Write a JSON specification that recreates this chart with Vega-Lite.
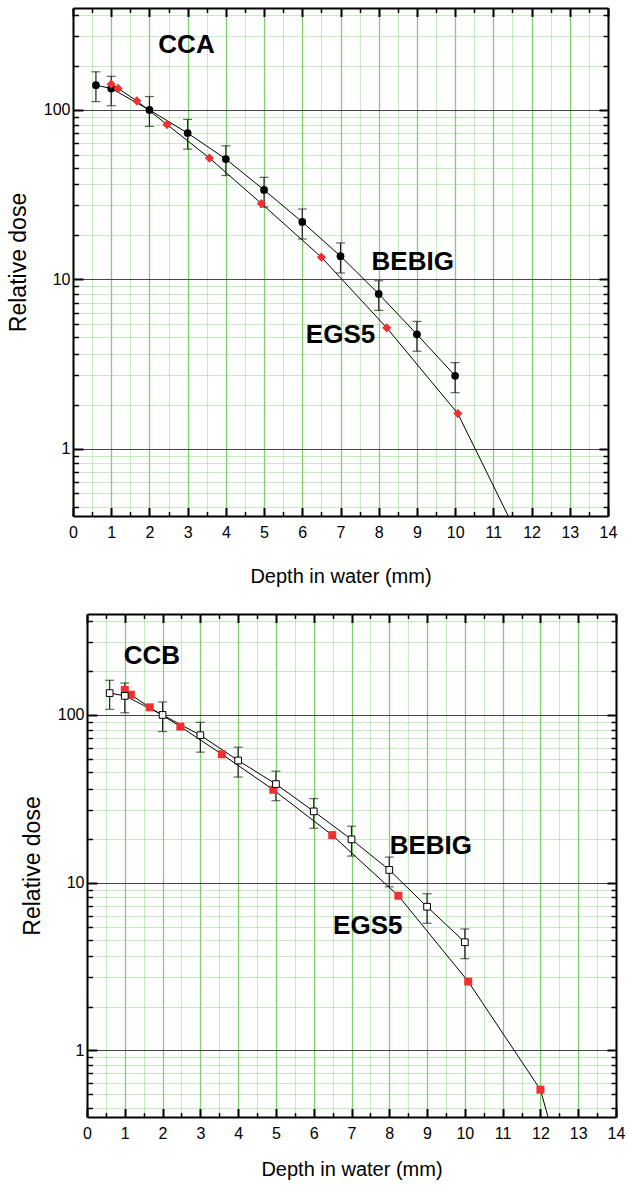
{
  "$schema": "https://vega.github.io/schema/vega-lite/v6.json",
  "padding": {"left": 6, "top": 7, "right": 0, "bottom": 0},
  "config": {"font": "Liberation Sans", "view": {"stroke": null}},
  "datasets": {
    "cca": [
      {"s": "BEBIG", "x": 0.6, "y": 140, "lo": 112, "hi": 168},
      {"s": "BEBIG", "x": 1, "y": 134, "lo": 106, "hi": 158},
      {"s": "BEBIG", "x": 2, "y": 100, "lo": 80, "hi": 120},
      {"s": "BEBIG", "x": 3, "y": 73, "lo": 58.7, "hi": 88},
      {"s": "BEBIG", "x": 4, "y": 51.3, "lo": 41, "hi": 61.4},
      {"s": "BEBIG", "x": 5, "y": 33.7, "lo": 26.7, "hi": 40},
      {"s": "BEBIG", "x": 6, "y": 21.8, "lo": 17.3, "hi": 26},
      {"s": "BEBIG", "x": 7, "y": 13.7, "lo": 10.9, "hi": 16.4},
      {"s": "BEBIG", "x": 8, "y": 8.2, "lo": 6.55, "hi": 9.8},
      {"s": "BEBIG", "x": 9, "y": 4.73, "lo": 3.76, "hi": 5.64},
      {"s": "BEBIG", "x": 10, "y": 2.69, "lo": 2.14, "hi": 3.22},
      {"s": "EGS5", "x": 1.0, "y": 142},
      {"s": "EGS5", "x": 1.18, "y": 134},
      {"s": "EGS5", "x": 1.67, "y": 113},
      {"s": "EGS5", "x": 2.46, "y": 82},
      {"s": "EGS5", "x": 3.57, "y": 52},
      {"s": "EGS5", "x": 4.93, "y": 28},
      {"s": "EGS5", "x": 6.5, "y": 13.5},
      {"s": "EGS5", "x": 8.21, "y": 5.17},
      {"s": "EGS5", "x": 10.07, "y": 1.61},
      {"s": "EGS5", "x": 12.0, "y": 0.21}
    ],
    "ccb": [
      {"s": "BEBIG", "x": 0.6, "y": 135, "lo": 108, "hi": 161},
      {"s": "BEBIG", "x": 1, "y": 130, "lo": 103, "hi": 155},
      {"s": "BEBIG", "x": 2, "y": 100, "lo": 79.6, "hi": 119.5},
      {"s": "BEBIG", "x": 3, "y": 75.7, "lo": 60, "hi": 90.4},
      {"s": "BEBIG", "x": 4, "y": 53.5, "lo": 42.6, "hi": 64.2},
      {"s": "BEBIG", "x": 5, "y": 38.7, "lo": 30.8, "hi": 46.2},
      {"s": "BEBIG", "x": 6, "y": 26.6, "lo": 21.1, "hi": 31.7},
      {"s": "BEBIG", "x": 7, "y": 18.1, "lo": 14.4, "hi": 21.7},
      {"s": "BEBIG", "x": 8, "y": 11.9, "lo": 9.44, "hi": 14.2},
      {"s": "BEBIG", "x": 9, "y": 7.18, "lo": 5.72, "hi": 8.58},
      {"s": "BEBIG", "x": 10, "y": 4.41, "lo": 3.52, "hi": 5.29},
      {"s": "EGS5", "x": 1.0, "y": 141},
      {"s": "EGS5", "x": 1.16, "y": 132},
      {"s": "EGS5", "x": 1.66, "y": 111},
      {"s": "EGS5", "x": 2.47, "y": 85.2},
      {"s": "EGS5", "x": 3.57, "y": 58.3},
      {"s": "EGS5", "x": 4.93, "y": 35.8},
      {"s": "EGS5", "x": 6.49, "y": 19.2},
      {"s": "EGS5", "x": 8.24, "y": 8.35},
      {"s": "EGS5", "x": 10.09, "y": 2.57},
      {"s": "EGS5", "x": 12.0, "y": 0.582},
      {"s": "EGS5", "x": 13.0, "y": 0.09}
    ],
    "lab1": [
      {"t": "CCA", "x": 2.97, "y": 216},
      {"t": "BEBIG", "x": 8.89, "y": 11.35},
      {"t": "EGS5", "x": 7.0, "y": 4.2}
    ],
    "lab2": [
      {"t": "CCB", "x": 1.72, "y": 201},
      {"t": "BEBIG", "x": 9.1, "y": 14.9},
      {"t": "EGS5", "x": 7.43, "y": 4.94}
    ]
  },
  "vconcat": [
    {"spacing": 0, "hconcat": [
    {"width": 1, "height": 1, "data": {"values": []}, "mark": {"type": "point", "size": 0, "opacity": 0}},
    {
      "width": 535,
      "height": 508,
      "data": {"name": "cca"},
      "resolve": {"scale": {"x": "independent", "y": "independent"}, "axis": {"x": "independent", "y": "independent"}},
      "layer": [
        {
          "mark": {"type": "point", "opacity": 0},
          "encoding": {
            "x": {"field": "x", "type": "quantitative", "scale": {"domain": [0, 14], "nice": false, "zero": false},
              "axis": {"orient": "bottom", "values": [0.5,1.5,2.5,3.5,4.5,5.5,6.5,7.5,8.5,9.5,10.5,11.5,12.5,13.5], "labels": false, "ticks": true, "tickSize": -4.5, "tickWidth": 1.5, "tickColor": "black", "domain": false, "grid": true, "gridColor": "#8fd680", "gridDash": [1, 1], "gridWidth": 1, "title": null}},
            "y": {"field": "y", "type": "quantitative", "scale": {"type": "log", "domain": [0.44, 440], "nice": false},
              "axis": {"orient": "left", "values": [0.5,0.6,0.7,0.8,0.9,1,2,3,4,5,6,7,8,9,10,20,30,40,50,60,70,80,90,100,200,300,400], "labels": false, "ticks": true, "tickSize": -5.5, "tickWidth": 1.5, "tickColor": "black", "domain": false, "grid": true, "gridColor": "#8fd680", "gridDash": [1, 1], "gridWidth": 1, "title": null}}
          }
        },
        {
          "mark": {"type": "point", "opacity": 0},
          "encoding": {
            "x": {"field": "x", "type": "quantitative", "scale": {"domain": [0, 14], "nice": false, "zero": false},
              "axis": {"orient": "bottom", "values": [0,1,2,3,4,5,6,7,8,9,10,11,12,13,14], "format": "d", "labelFontSize": 16, "labelColor": "black", "labelPadding": 17, "labelFlush": false, "labelOverlap": false, "ticks": true, "tickSize": -8.5, "tickWidth": 2, "tickColor": "black", "domain": true, "domainColor": "black", "domainWidth": 2, "grid": true, "gridColor": "#7fcf6f", "gridWidth": 1.3, "title": "Depth in water (mm)", "titleFontSize": 20, "titleFontWeight": "normal", "titleColor": "black", "titlePadding": 26}},
            "y": {"field": "y", "type": "quantitative", "scale": {"type": "log", "domain": [0.4, 400], "nice": false},
              "axis": {"orient": "left", "values": [1, 10, 100], "format": "d", "labelFontSize": 16, "labelColor": "black", "labelPadding": 13, "labelFlush": false, "labelOverlap": false, "ticks": true, "tickSize": -10, "tickWidth": 2, "tickColor": "black", "domain": true, "domainColor": "black", "domainWidth": 2, "grid": true, "gridColor": "#444444", "gridWidth": 1, "title": "Relative dose", "titleFontSize": 23, "titleFontWeight": "normal", "titleColor": "black", "titlePadding": 13}}
          }
        },
        {
          "mark": {"type": "point", "opacity": 0},
          "encoding": {
            "x": {"field": "x", "type": "quantitative", "scale": {"domain": [0, 14], "nice": false, "zero": false},
              "axis": {"orient": "top", "values": [0.5,1.5,2.5,3.5,4.5,5.5,6.5,7.5,8.5,9.5,10.5,11.5,12.5,13.5], "labels": false, "ticks": true, "tickSize": -4.5, "tickWidth": 1.5, "tickColor": "black", "domain": false, "grid": false, "title": null}},
            "y": {"field": "y", "type": "quantitative", "scale": {"type": "log", "domain": [0.44, 440], "nice": false},
              "axis": {"orient": "right", "values": [0.5,0.6,0.7,0.8,0.9,1,2,3,4,5,6,7,8,9,10,20,30,40,50,60,70,80,90,100,200,300,400], "labels": false, "ticks": true, "tickSize": -5, "tickWidth": 1.5, "tickColor": "black", "domain": false, "grid": false, "title": null}}
          }
        },
        {
          "mark": {"type": "point", "opacity": 0},
          "encoding": {
            "x": {"field": "x", "type": "quantitative", "scale": {"domain": [0, 14], "nice": false, "zero": false},
              "axis": {"orient": "top", "values": [0,1,2,3,4,5,6,7,8,9,10,11,12,13,14], "labels": false, "ticks": true, "tickSize": -8.5, "tickWidth": 2, "tickColor": "black", "domain": true, "domainColor": "black", "domainWidth": 2, "grid": false, "title": null}},
            "y": {"field": "y", "type": "quantitative", "scale": {"type": "log", "domain": [0.4, 400], "nice": false},
              "axis": {"orient": "right", "values": [1, 10, 100], "labels": false, "ticks": true, "tickSize": -9, "tickWidth": 2, "tickColor": "black", "domain": true, "domainColor": "black", "domainWidth": 2, "grid": false, "title": null}}
          }
        },
        {
          "encoding": {
            "x": {"field": "x", "type": "quantitative", "scale": {"domain": [0, 14], "nice": false, "zero": false}, "axis": null},
            "y": {"field": "y", "type": "quantitative", "scale": {"type": "log", "domain": [0.4, 400], "nice": false}, "axis": null}
          },
          "layer": [
            {"mark": {"type": "line", "color": "black", "strokeWidth": 1, "clip": true}, "encoding": {"detail": {"field": "s"}}},
            {"transform": [{"filter": "datum.s === 'BEBIG'"}], "mark": {"type": "errorbar", "ticks": true, "size": 9, "thickness": 1.2, "color": "#222222"},
              "encoding": {"y": {"field": "lo", "type": "quantitative", "scale": {"type": "log", "domain": [0.4, 400], "nice": false}, "axis": null}, "y2": {"field": "hi"}}},
            {"transform": [{"filter": "datum.s === 'BEBIG'"}], "mark": {"type": "point", "shape": "circle", "filled": true, "color": "black", "size": 60, "opacity": 1, "clip": true}},
            {"transform": [{"filter": "datum.s === 'EGS5'"}], "mark": {"type": "point", "shape": "diamond", "filled": true, "color": "#f03030", "size": 85, "opacity": 1, "clip": true}},
            {"data": {"name": "lab1"}, "mark": {"type": "text", "fontSize": 26, "fontWeight": "bold", "align": "center", "baseline": "alphabetic", "color": "black"}, "encoding": {"text": {"field": "t"}}}
          ]
        }
      ]
    }
    ]},
    {"spacing": 0, "hconcat": [
    {"width": 15, "height": 1, "data": {"values": []}, "mark": {"type": "point", "size": 0, "opacity": 0}},
    {
      "width": 529,
      "height": 503,
      "data": {"name": "ccb"},
      "resolve": {"scale": {"x": "independent", "y": "independent"}, "axis": {"x": "independent", "y": "independent"}},
      "layer": [
        {
          "mark": {"type": "point", "opacity": 0},
          "encoding": {
            "x": {"field": "x", "type": "quantitative", "scale": {"domain": [0, 14], "nice": false, "zero": false},
              "axis": {"orient": "bottom", "values": [0.5,1.5,2.5,3.5,4.5,5.5,6.5,7.5,8.5,9.5,10.5,11.5,12.5,13.5], "labels": false, "ticks": true, "tickSize": -4.5, "tickWidth": 1.5, "tickColor": "black", "domain": false, "grid": true, "gridColor": "#8fd680", "gridDash": [1, 1], "gridWidth": 1, "title": null}},
            "y": {"field": "y", "type": "quantitative", "scale": {"type": "log", "domain": [0.44, 440], "nice": false},
              "axis": {"orient": "left", "values": [0.5,0.6,0.7,0.8,0.9,1,2,3,4,5,6,7,8,9,10,20,30,40,50,60,70,80,90,100,200,300,400], "labels": false, "ticks": true, "tickSize": -5.5, "tickWidth": 1.5, "tickColor": "black", "domain": false, "grid": true, "gridColor": "#8fd680", "gridDash": [1, 1], "gridWidth": 1, "title": null}}
          }
        },
        {
          "mark": {"type": "point", "opacity": 0},
          "encoding": {
            "x": {"field": "x", "type": "quantitative", "scale": {"domain": [0, 14], "nice": false, "zero": false},
              "axis": {"orient": "bottom", "values": [0,1,2,3,4,5,6,7,8,9,10,11,12,13,14], "format": "d", "labelFontSize": 16, "labelColor": "black", "labelPadding": 17, "labelFlush": false, "labelOverlap": false, "ticks": true, "tickSize": -8.5, "tickWidth": 2, "tickColor": "black", "domain": true, "domainColor": "black", "domainWidth": 2, "grid": true, "gridColor": "#7fcf6f", "gridWidth": 1.3, "title": "Depth in water (mm)", "titleFontSize": 20, "titleFontWeight": "normal", "titleColor": "black", "titlePadding": 18}},
            "y": {"field": "y", "type": "quantitative", "scale": {"type": "log", "domain": [0.4, 400], "nice": false},
              "axis": {"orient": "left", "values": [1, 10, 100], "format": "d", "labelFontSize": 16, "labelColor": "black", "labelPadding": 13, "labelFlush": false, "labelOverlap": false, "ticks": true, "tickSize": -10, "tickWidth": 2, "tickColor": "black", "domain": true, "domainColor": "black", "domainWidth": 2, "grid": true, "gridColor": "#444444", "gridWidth": 1, "title": "Relative dose", "titleFontSize": 23, "titleFontWeight": "normal", "titleColor": "black", "titlePadding": 13}}
          }
        },
        {
          "mark": {"type": "point", "opacity": 0},
          "encoding": {
            "x": {"field": "x", "type": "quantitative", "scale": {"domain": [0, 14], "nice": false, "zero": false},
              "axis": {"orient": "top", "values": [0.5,1.5,2.5,3.5,4.5,5.5,6.5,7.5,8.5,9.5,10.5,11.5,12.5,13.5], "labels": false, "ticks": true, "tickSize": -4.5, "tickWidth": 1.5, "tickColor": "black", "domain": false, "grid": false, "title": null}},
            "y": {"field": "y", "type": "quantitative", "scale": {"type": "log", "domain": [0.44, 440], "nice": false},
              "axis": {"orient": "right", "values": [0.5,0.6,0.7,0.8,0.9,1,2,3,4,5,6,7,8,9,10,20,30,40,50,60,70,80,90,100,200,300,400], "labels": false, "ticks": true, "tickSize": -5, "tickWidth": 1.5, "tickColor": "black", "domain": false, "grid": false, "title": null}}
          }
        },
        {
          "mark": {"type": "point", "opacity": 0},
          "encoding": {
            "x": {"field": "x", "type": "quantitative", "scale": {"domain": [0, 14], "nice": false, "zero": false},
              "axis": {"orient": "top", "values": [0,1,2,3,4,5,6,7,8,9,10,11,12,13,14], "labels": false, "ticks": true, "tickSize": -8.5, "tickWidth": 2, "tickColor": "black", "domain": true, "domainColor": "black", "domainWidth": 2, "grid": false, "title": null}},
            "y": {"field": "y", "type": "quantitative", "scale": {"type": "log", "domain": [0.4, 400], "nice": false},
              "axis": {"orient": "right", "values": [1, 10, 100], "labels": false, "ticks": true, "tickSize": -9, "tickWidth": 2, "tickColor": "black", "domain": true, "domainColor": "black", "domainWidth": 2, "grid": false, "title": null}}
          }
        },
        {
          "encoding": {
            "x": {"field": "x", "type": "quantitative", "scale": {"domain": [0, 14], "nice": false, "zero": false}, "axis": null},
            "y": {"field": "y", "type": "quantitative", "scale": {"type": "log", "domain": [0.4, 400], "nice": false}, "axis": null}
          },
          "layer": [
            {"mark": {"type": "line", "color": "black", "strokeWidth": 1, "clip": true}, "encoding": {"detail": {"field": "s"}}},
            {"transform": [{"filter": "datum.s === 'BEBIG'"}], "mark": {"type": "errorbar", "ticks": true, "size": 9, "thickness": 1.2, "color": "#222222"},
              "encoding": {"y": {"field": "lo", "type": "quantitative", "scale": {"type": "log", "domain": [0.4, 400], "nice": false}, "axis": null}, "y2": {"field": "hi"}}},
            {"transform": [{"filter": "datum.s === 'EGS5'"}], "mark": {"type": "point", "shape": "square", "filled": true, "color": "#f03030", "size": 64, "opacity": 1, "clip": true}},
            {"transform": [{"filter": "datum.s === 'BEBIG'"}], "mark": {"type": "point", "shape": "square", "filled": true, "fill": "white", "stroke": "black", "strokeWidth": 1, "size": 45, "opacity": 1, "clip": true}},
            {"data": {"name": "lab2"}, "mark": {"type": "text", "fontSize": 26, "fontWeight": "bold", "align": "center", "baseline": "alphabetic", "color": "black"}, "encoding": {"text": {"field": "t"}}}
          ]
        }
      ]
    }
    ]}
  ],
  "spacing": 26
}
